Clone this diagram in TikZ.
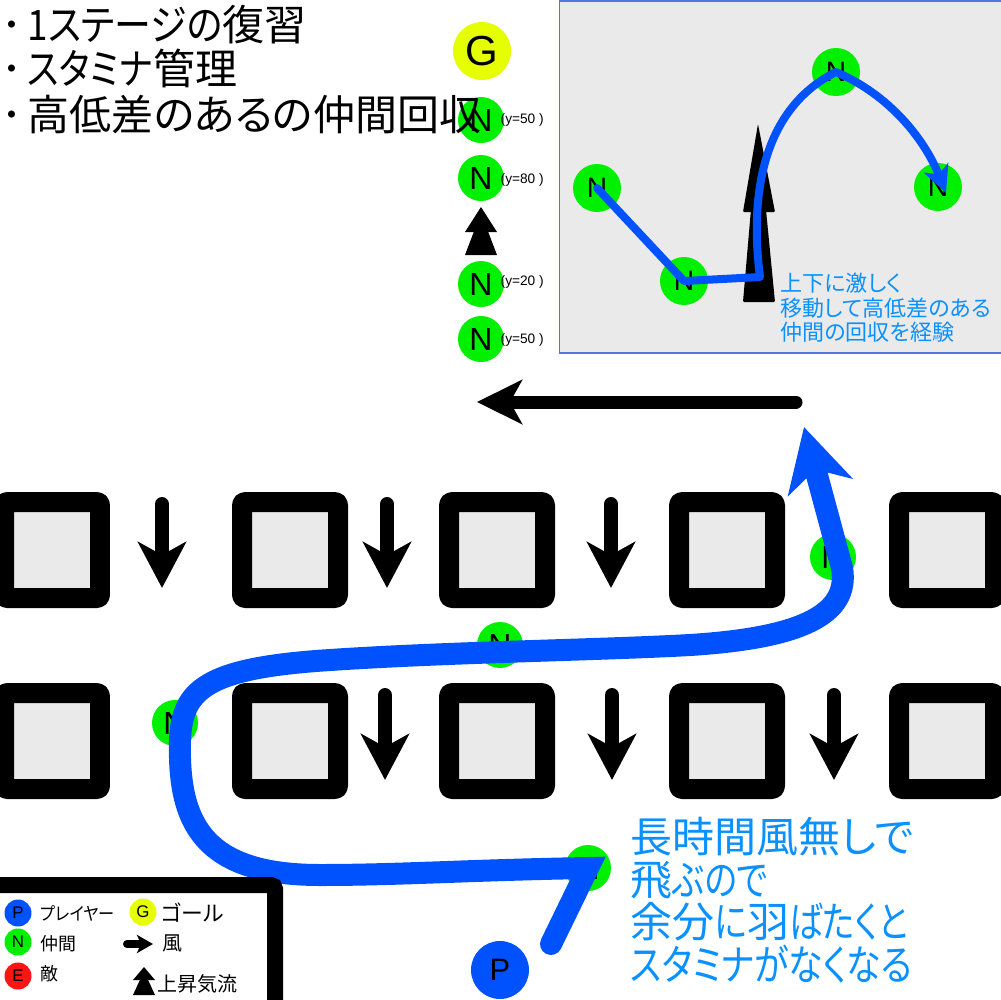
\documentclass[tikz,border=0pt]{standalone}
\usepackage{graphicx}
\usepackage{fontspec}
\setmainfont{Liberation Sans}
\newfontfamily\jp[RawFeature=+palt]{Noto Sans CJK JP}
\usetikzlibrary{arrows.meta}
\definecolor{bgray}{RGB}{234,234,234}
\definecolor{ngreen}{RGB}{0,240,0}
\definecolor{gyellow}{RGB}{230,255,0}
\definecolor{ered}{RGB}{255,20,20}
\definecolor{pblue}{RGB}{0,82,255}
\definecolor{tblue}{RGB}{10,145,255}
\definecolor{iborder}{RGB}{80,120,220}
\newcommand\myfs[2]{\fontsize{#1}{#2}\selectfont}
\newcommand\kn[2][0.85]{\scalebox{#1}[1]{#2}}
\begin{document}
\begin{tikzpicture}[x=0.1mm,y=-0.1mm,
  block/.style={draw=black, fill=bgray, line width=2mm, minimum size=9.6mm, inner sep=0pt, rounded corners=0.3mm, line join=round},
  wind/.style={line width=1.4mm, line cap=round, -{Stealth[length=4.6mm,width=4.8mm,inset=1.3mm]}},
  ncirc/.style={circle, fill=ngreen, minimum size=4.6mm, inner sep=0pt, font=\myfs{9.1}{9.1}},
  incirc/.style={circle, fill=ngreen, minimum size=4.8mm, inner sep=0pt, font=\myfs{8}{8}},
  lcirc/.style={circle, minimum size=2.7mm, inner sep=0pt, font=\myfs{4.8}{4.8}},
  ylab/.style={anchor=west, inner sep=0pt, font=\myfs{3.9}{3.9}},
  title/.style={anchor=base west, inner sep=0pt, font=\jp\myfs{11.95}{12.8}},
  note/.style={anchor=base west, inner sep=0pt, text=tblue, font=\jp\myfs{11.95}{12.8}},
  inote/.style={anchor=base west, inner sep=0pt, text=tblue, font=\jp\myfs{6.26}{6.8}},
  ltext/.style={anchor=base west, inner sep=0pt, font=\jp\myfs{5.1}{5.1}},
  rtext/.style={anchor=base west, inner sep=0pt, font=\jp\myfs{5.7}{5.7}},
  mainpath/.style={draw=pblue, line width=2.2mm, line cap=round, line join=miter},
]
\useasboundingbox (0,0) rectangle (1000,1000);

% blocks
\foreach \x [count=\i] in {52,290,497,727,947}{
  \node[block] (a\i) at (\x,550) {};
  \node[block] (b\i) at (\x,741) {};
}
% wind arrows
\foreach \x in {162,387,611}{
  \draw[wind] (\x,504) -- (\x,588);
}
\foreach \x in {385,612,834}{
  \draw[wind] (\x,695) -- (\x,780);
}

% big left arrow
\coordinate (wa) at (796,402);
\coordinate (wb) at (477,402);
\draw[line width=1.3mm, line cap=round, -{Stealth[length=4.5mm,width=4.4mm,inset=1.2mm]}] (wa) -- (wb);

% top-left text
\node[title] (t1) at (1,40) {･\kern0.5mm\kn[0.88]{1ステージの}復習};
\node[title] (t2) at (1,84) {･\kern0.5mm\kn[0.84]{スタミナ}管理};

% goal + column
\node[circle, fill=gyellow, minimum size=5.8mm, inner sep=0pt, font=\myfs{11.95}{11.95}] (g) at (482,51) {G};
\node[ncirc] (c1) at (481,120) {N};
\node[title] (t3) at (1,130) {･\kern0.5mm 高低差のあるの仲間回収};
\node[ncirc] (c2) at (481,178) {N};
\fill (481,207) -- (497,232) -- (465,232) -- cycle;
\fill (481,213) -- (497,255) -- (465,255) -- cycle;
\node[ncirc] (c3) at (481,284) {N};
\node[ncirc] (c4) at (481,339) {N};
\node[ylab] (y1) at (500,120) {(y=50 )};
\node[ylab] (y2) at (500,180) {(y=80 )};
\node[ylab] (y3) at (500,282) {(y=20 )};
\node[ylab] (y4) at (500,340) {(y=50 )};

% inset
\draw[fill=bgray, draw=iborder, line width=0.15mm] (559.5,1) rectangle (1005,353);
\fill[rounded corners=0.1mm] (758,124) -- (775,212) -- (743,212) -- cycle;
\fill[rounded corners=0.1mm] (758,128) -- (775,302) -- (743,302) -- cycle;
\node[incirc] (i1) at (597,188) {N};
\node[incirc] (i2) at (684,281) {N};
\node[incirc] (i3) at (836,72) {N};
\node[incirc] (i4) at (938,187) {N};
\coordinate (ik) at (760,277);
\coordinate (ie) at (946,193);
\draw[draw=pblue, line width=0.8mm, line cap=round, line join=round, -{Stealth[length=2.7mm,width=2.6mm,inset=0.7mm]}]
  (i1.center) -- (i2.center) -- (ik) .. controls (750,200) and (760,110) .. (i3.center)
  .. controls (890,95) and (925,140) .. (ie);
\node[inote] (n1) at (780,291) {上下に激しく};
\node[inote] (n2) at (780,316) {移動して高低差のある};
\node[inote] (n3) at (780,340) {仲間の回収を経験};

% main area N nodes
\node[ncirc] (m1) at (833,557) {N};
\node[ncirc] (m2) at (500,645) {N};
\node[ncirc] (m3) at (175,723) {N};
\node[ncirc] (m4) at (588,868) {N};
\node[circle, fill=pblue, minimum size=5.8mm, inner sep=0pt, font=\myfs{8.8}{8.8}] (p) at (500,970) {P};

% main path
\coordinate (ps) at (551,944);
\coordinate (pe) at (804,427);
\draw[mainpath, -{Stealth[length=6.2mm,width=6.6mm,inset=1.8mm]}]
  (ps) -- (m4.center) .. controls (470,870) and (400,875) .. (320,875)
  .. controls (200,875) and (178,820) .. (180,740)
  .. controls (182,690) and (205,668) .. (330,660)
  .. controls (450,652) and (600,650) .. (690,645)
  .. controls (800,638) and (850,615) .. (842,568) -- (pe);

% bottom note
\node[note] (b1t) at (630,852) {長時間風無しで};
\node[note] (b2t) at (630,895) {飛\kn[0.8]{ぶので}};
\node[note] (b3t) at (630,937) {余分\kn[0.8]{に}羽\kn[0.8]{ばたくと}};
\node[note] (b4t) at (630,980) {\kn[0.83]{スタミナがなくなる}};

% legend
\draw[line width=1.6mm, rounded corners=0.4mm] (-30,1040) -- (-30,885) -- (275,885) -- (275,1040);
\node[lcirc, fill=pblue] (lp) at (18,913) {P};
\node[lcirc, fill=ngreen] (ln) at (18,942) {N};
\node[lcirc, fill=ered] (le) at (18,976) {E};
\node[lcirc, fill=gyellow] (lg) at (143,912) {G};
\node[ltext] (lt1) at (40,920) {\kn[0.9]{プレイヤー}};
\node[ltext] (lt2) at (40,950) {仲間};
\node[ltext] (lt3) at (40,980) {敵};
\node[rtext, font=\jp\myfs{6.2}{6.2}] (lt4) at (161,921) {ゴール};
\node[rtext] (lt5) at (162,950) {風};
\node[rtext] (lt6) at (157,991) {上昇気流};
\coordinate (lwa) at (127,944);
\coordinate (lwb) at (153,944);
\draw[line width=0.8mm, line cap=round, -{Stealth[length=1.6mm,width=1.8mm,inset=0.4mm]}] (lwa) -- (lwb);
\fill (144,967) -- (155,980) -- (133,980) -- cycle;
\fill (144,971) -- (155,995) -- (133,995) -- cycle;
\end{tikzpicture}
\end{document}
